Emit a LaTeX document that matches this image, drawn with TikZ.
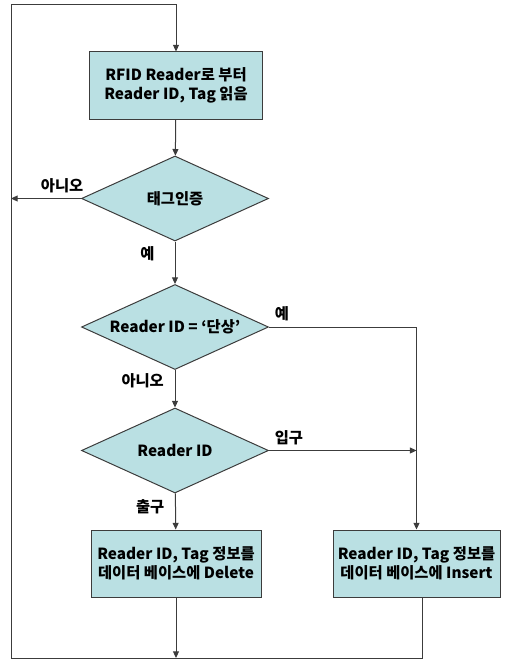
\documentclass[tikz,border=0pt]{standalone}
\usepackage{fontspec}
\setmainfont{Noto Sans CJK KR}
\usepackage{tikz}
\usetikzlibrary{arrows.meta, shapes.geometric}
\definecolor{boxTeal}{RGB}{186,224,227}
\definecolor{edgeGray}{RGB}{60,60,60}
\newcommand{\flowfont}{\fontsize{11.5}{14.5}\selectfont\bfseries}
\tikzset{
  block/.style={draw=edgeGray, fill=boxTeal, line width=0.75pt, align=center,
                font=\flowfont, inner sep=0pt, minimum height=50.25pt},
  decision/.style={draw=edgeGray, fill=boxTeal, line width=0.75pt, diamond,
                   aspect=2.2, align=center, font=\flowfont, inner sep=0pt,
                   minimum width=140.25pt, minimum height=63.75pt},
  flow/.style={line width=0.75pt, draw=edgeGray,
               -{Triangle[length=5pt, width=4.5pt]}},
  tag/.style={font=\flowfont, inner sep=1pt},
}

\begin{document}
\begin{tikzpicture}[x=0.75pt, y=-0.75pt]
  \useasboundingbox (0,0) rectangle (504,660);

  % ----- steps -----
  \node[block, minimum width=129.75pt] (read) at (176,85.5)
        {RFID Reader로 부터\\Reader ID, Tag 읽음};
  \node[decision] (auth) at (175,198.5) {태그인증};
  \node[decision] (chk) at (175,327) {Reader ID = ‘단상’};
  \node[decision] (dir) at (175,450.5) {Reader ID};
  \node[block, minimum width=127.5pt] (del) at (176,563.5)
        {Reader ID, Tag 정보를\\데이터 베이스에 Delete};
  \node[block, minimum width=125.25pt] (ins) at (416.5,563.5)
        {Reader ID, Tag 정보를\\데이터 베이스에 Insert};

  % ----- loop corners -----
  \coordinate (botL) at (11,658);
  \coordinate (topL) at (11,5);

  % ----- connectors -----
  \draw[flow] (read) -- (auth);
  \draw[flow] (auth.west) -- (auth.west -| botL)
        node[tag, above=3pt, pos=0.27] {아니오};
  \draw[flow] (auth) -- node[tag, left=14pt, pos=0.28] {예} (chk);
  \draw[flow] (chk.east) -| (ins.north)
        node[tag, above right=3pt, pos=0] {예};
  \draw[flow] (chk) -- node[tag, left=7pt, pos=0.3] {아니오} (dir);
  \draw[flow] (dir.east) -- (dir.east -| ins.north)
        node[tag, above right=3pt, pos=0] {입구};
  \draw[flow] (dir) -- node[tag, left=7pt, pos=0.38] {출구} (del);
  \draw[flow] (del) -- (del.south |- botL);
  \draw[flow] ([xshift=4.5pt]ins.south) |- (botL) -- (topL) -| (read.north);
\end{tikzpicture}
\end{document}
